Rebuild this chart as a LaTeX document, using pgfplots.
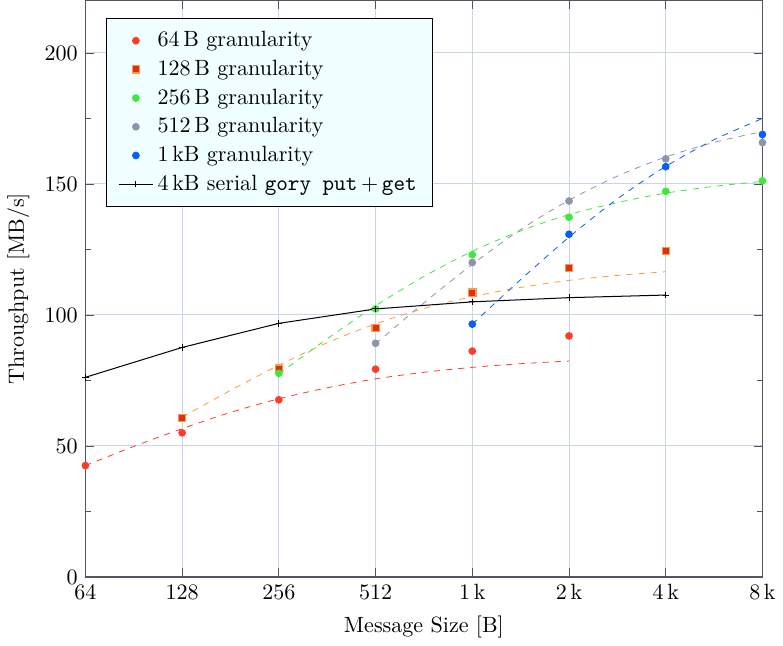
\documentclass[11pt,border=0pt]{standalone}
\usepackage{pgfplots}
\pgfplotsset{compat=1.18}
\definecolor{cRed}{HTML}{FF3B2B}
\definecolor{cOrange}{HTML}{FF9A3C}
\definecolor{cOrFill}{HTML}{D8321A}
\definecolor{cGreen}{HTML}{3EE83E}
\definecolor{cGray}{HTML}{8C96AA}
\definecolor{cBlue}{HTML}{0A5CFF}
\definecolor{gridc}{HTML}{C8D5EA}
\definecolor{axc}{HTML}{505564}
\definecolor{legfill}{HTML}{F0FFFF}
\begin{document}
\begin{tikzpicture}
\begin{axis}[
  scale only axis,
  width=336pt, height=286pt,
  xmode=log, log basis x=2,
  xmin=64, xmax=8192,
  ymin=0, ymax=220,
  xtick={64,128,256,512,1024,2048,4096,8192},
  xticklabels={64,128,256,512,1\,k,2\,k,4\,k,8\,k},
  ytick={0,50,100,150,200},
  minor y tick num=1,
  grid=major,
  major grid style={gridc, line width=0.5pt},
  axis line style={axc, line width=0.6pt},
  every tick/.style={axc},
  xlabel={Message Size [B]},
  ylabel={Throughput [MB/s]},
  legend style={at={(0.03,0.97)}, anchor=north west, fill=legfill, draw=black, font=\normalsize, row sep=1pt, inner xsep=6pt, inner ysep=4.5pt},
  legend cell align=left,
]
% fit curves
\addplot[cRed, dashed, smooth, forget plot] coordinates {
(64,42.5) (90.5,49.8) (128,56.6) (181,62.8) (256,68.0) (362,72.2) (512,75.6) (724,78.1) (1024,80.0) (1448,81.4) (2048,82.4)};
\addplot[cOrange, dashed, smooth, forget plot] coordinates {
(128,61.0) (181,71.2) (256,80.8) (362,89.4) (512,96.6) (724,102.5) (1024,107.0) (1448,110.5) (2048,113.2) (2896,115.1) (4096,116.5)};
\addplot[cGreen, dashed, smooth, forget plot] coordinates {
(256,77.5) (362,90.9) (512,103.5) (724,114.7) (1024,124.3) (1448,132.1) (2048,138.3) (2896,142.9) (4096,146.5) (5793,149.1) (8192,151.0)};
\addplot[cGray, dashed, smooth, forget plot] coordinates {
(512,89.0) (724,104.6) (1024,119.3) (1448,132.6) (2048,143.8) (2896,153.0) (4096,160.3) (5793,165.9) (8192,170.0)};
\addplot[cBlue, dashed, smooth, forget plot] coordinates {
(1024,96.5) (1448,113.5) (2048,129.7) (2896,144.3) (4096,156.7) (5793,166.9) (8192,175.0)};
% measurements
\addplot[only marks, mark=*, mark size=1.7pt, cRed, mark options={draw=cRed, fill=cRed}] coordinates {
(64,42.5) (128,55.0) (256,67.6) (512,79.3) (1024,86.2) (2048,92.0)};
\addlegendentry{64\,B granularity}
\addplot[only marks, mark=square*, mark size=1.8pt, mark options={draw=cOrange, fill=cOrFill, line width=0.6pt}] coordinates {
(128,60.6) (256,79.5) (512,95.0) (1024,108.5) (2048,118.0) (4096,124.5)};
\addlegendentry{128\,B granularity}
\addplot[only marks, mark=*, mark size=1.7pt, mark options={draw=cGreen, fill=cGreen}] coordinates {
(256,77.7) (512,102.3) (1024,123.0) (2048,137.3) (4096,147.2) (8192,151.2)};
\addlegendentry{256\,B granularity}
\addplot[only marks, mark=*, mark size=1.7pt, mark options={draw=cGray, fill=cGray}] coordinates {
(512,89.2) (1024,120.0) (2048,143.5) (4096,159.6) (8192,165.8)};
\addlegendentry{512\,B granularity}
\addplot[only marks, mark=*, mark size=1.7pt, mark options={draw=cBlue, fill=cBlue}] coordinates {
(1024,96.5) (2048,130.8) (4096,156.6) (8192,168.9)};
\addlegendentry{1\,kB granularity}
\addplot[black, mark=+, mark size=1.6pt, line width=0.5pt] coordinates {
(64,76.2) (128,87.6) (256,96.8) (512,102.3) (1024,105.0) (2048,106.6) (4096,107.6)};
\addlegendentry{4\,kB serial \texttt{gory put}\,+\,\texttt{get}}
\end{axis}
\end{tikzpicture}
\end{document}
